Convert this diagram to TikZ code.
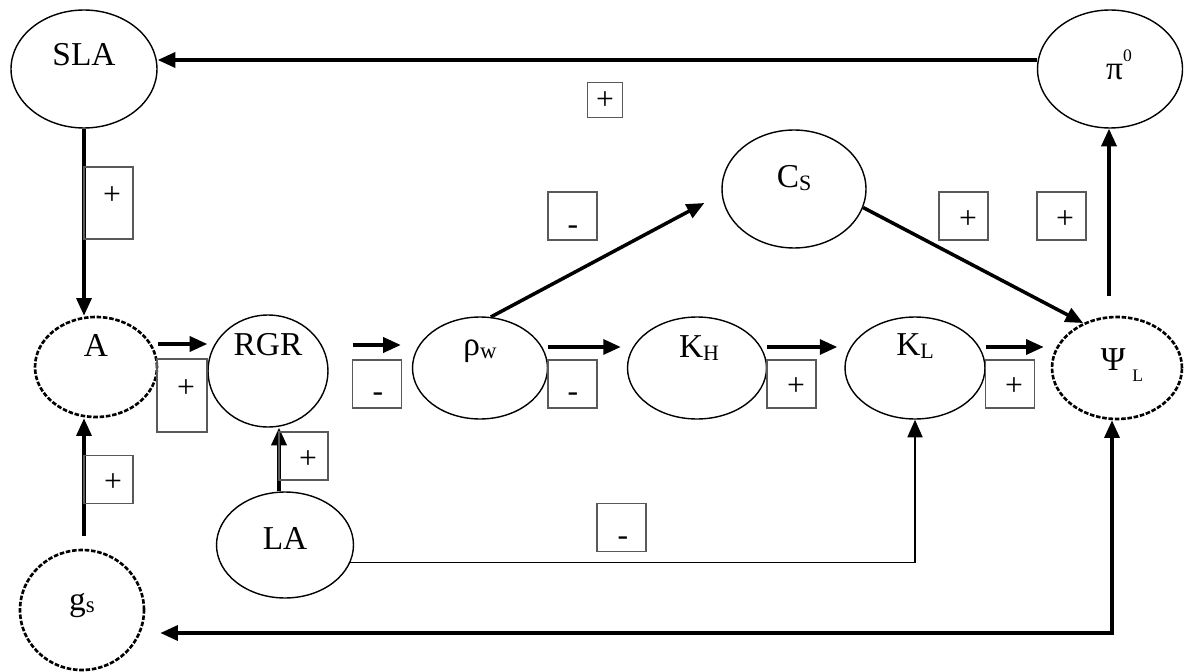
\documentclass[tikz,border=0pt]{standalone}
\usepackage{fontspec}
\setmainfont{Liberation Serif}
\usetikzlibrary{shapes.geometric,arrows.meta,calc}

\newcommand{\lowsub}[3]{\raisebox{#1}{\fontsize{#2}{#2}\selectfont #3}}

\tikzset{
  bub/.style={ellipse, draw, line width=0.8pt, inner sep=0pt},
  dbub/.style={bub, line width=1.5pt, dash pattern=on 2.6pt off 1pt},
  lab/.style={font=\fontsize{19}{22}\selectfont, inner sep=0pt},
  arr/.style={line width=2pt, -{Triangle[length=10pt,width=8.5pt]}},
  darr/.style={line width=2pt, {Triangle[length=10pt,width=8.5pt]}-{Triangle[length=10pt,width=8.5pt]}},
  thinarr/.style={line width=1.1pt, -{Triangle[length=10pt,width=8.5pt]}},
  sbox/.style={draw=black!65, line width=0.7pt, minimum width=0.98cm, minimum height=0.96cm, inner sep=0pt},
  sign/.style={font=\fontsize{18}{18}\selectfont, inner sep=0pt},
}

\begin{document}
\begin{tikzpicture}[x=0.02cm, y=-0.02cm]
  \useasboundingbox (0,0) rectangle (1186,672);

  % variables
  \node[bub, minimum width=2.92cm, minimum height=2.36cm, label={[lab,yshift=0.28cm]center:SLA}] (sla) at (84,69) {};
  \node[bub, minimum width=2.9cm, minimum height=2.36cm, label={[lab,xshift=0.18cm,yshift=0.08cm]center:π\lowsub{10pt}{10}{0}}] (pi) at (1110,69) {};
  \node[dbub, minimum width=2.44cm, minimum height=2cm, label={[lab,yshift=0.44cm]center:A}] (a) at (96,367) {};
  \node[bub, minimum width=2.4cm, minimum height=2.24cm, label={[lab,yshift=0.52cm]center:RGR}] (rgr) at (268,371) {};
  \node[bub, minimum width=2.7cm, minimum height=2.04cm, label={[lab,yshift=0.34cm]center:ρ\lowsub{-2pt}{13}{w}}] (rho) at (480,368) {};
  \node[bub, minimum width=2.78cm, minimum height=2.04cm, label={[lab,xshift=0.04cm,yshift=0.4cm]center:K\lowsub{-1.5pt}{12.5}{H}}] (kh) at (697,368) {};
  \node[bub, minimum width=2.8cm, minimum height=2.04cm, label={[lab,yshift=0.44cm]center:K\lowsub{-1.5pt}{12.5}{L}}] (kl) at (915,368) {};
  \node[dbub, minimum width=2.6cm, minimum height=2.04cm, label={[lab,xshift=0.1cm,yshift=0.06cm]center:Ψ\kern4pt\lowsub{-6pt}{10}{L}}] (ps) at (1117,368) {};
  \node[bub, minimum width=2.88cm, minimum height=2.36cm, label={[lab,yshift=0.22cm]center:C\lowsub{-1.5pt}{12.5}{S}}] (cs) at (794,189) {};
  \node[bub, minimum width=2.74cm, minimum height=2.12cm, label={[lab,yshift=0.14cm]center:LA}] (la) at (285,545) {};
  \node[dbub, minimum width=2.48cm, minimum height=2.4cm, label={[lab,yshift=0.08cm]center:g\lowsub{-1pt}{13}{s}}] (gs) at (82,610) {};

  % free ends
  \coordinate (gsout) at ($(gs.north)+(2,-13)$);
  \coordinate (laout) at ($(la.north)+(-6,0)$);
  \coordinate (psout) at ($(ps.north)+(-8,-20)$);
  \coordinate (gsin) at ($(gs.east)+(15,23)$);

  % links
  \draw[arr] (pi.west |- 0,60) -- (sla.east |- 0,60);
  \draw[arr] (sla.south) -- (sla.south |- a.north);
  \draw[arr] (gsout) -- (gsout |- a.south);
  \draw[arr] ($(a.east)+(0,-23)$) -- ($(rgr.west)+(0,-27)$);
  \draw[arr] ($(rgr.east)+(24,-26)$) -- ($(rho.west)+(-11,-23)$);
  \draw[arr] ($(rho.east)+(0,-21)$) -- ($(kh.west)+(-6,-21)$);
  \draw[arr] ($(kh.east)+(0,-21)$) -- ($(kl.west)+(-7,-21)$);
  \draw[arr] ($(kl.east)+(0,-21)$) -- ($(ps.west)+(-7,-21)$);
  \draw[arr] (laout) -- (laout |- rgr.south);
  \draw[arr] (rho.78) -- ($(cs.west)+(-17,14)$);
  \draw[arr] (cs.-15) -- (ps.127);
  \draw[arr] (psout) -- (psout |- pi.south);
  \draw[thinarr] (la.-15) -| (kl.south);
  \draw[darr] (gsin) -| ($(ps.south)+(-5,0)$);

  % signs
  \node[sbox, minimum width=0.7cm, minimum height=0.7cm] (b1) at (605,100) {};
  \node[sign] (s1) at (605,101) {+};
  \node[sbox, minimum height=1.44cm] (b2) at (108.5,203) {};
  \node[sign] (s2) at (112,196) {+};
  \node[sbox] (b3) at (572.5,216) {};
  \node[sign] (s3) at (573,230) {-};
  \node[sbox] (b4) at (963.5,216) {};
  \node[sign] (s4) at (968,220) {+};
  \node[sbox] (b5) at (1061.5,216) {};
  \node[sign] (s5) at (1065,220) {+};
  \node[sbox, minimum width=1cm, minimum height=1.46cm] (b6) at (182,395.5) {};
  \node[sign] (s6) at (186,389) {+};
  \node[sbox] (b7) at (377,384) {};
  \node[sign] (s7) at (378,397) {-};
  \node[sbox] (b8) at (572.5,384) {};
  \node[sign] (s8) at (573,397) {-};
  \node[sbox] (b9) at (791.5,384) {};
  \node[sign] (s9) at (796,387) {+};
  \node[sbox] (b10) at (1010,384) {};
  \node[sign] (s10) at (1014,387) {+};
  \node[sbox] (b11) at (303.5,456) {};
  \node[sign] (s11) at (308,460) {+};
  \node[sbox] (b12) at (108.5,479.5) {};
  \node[sign] (s12) at (113,483) {+};
  \node[sbox] (b13) at (621.5,527.5) {};
  \node[sign] (s13) at (623,541) {-};
\end{tikzpicture}
\end{document}
